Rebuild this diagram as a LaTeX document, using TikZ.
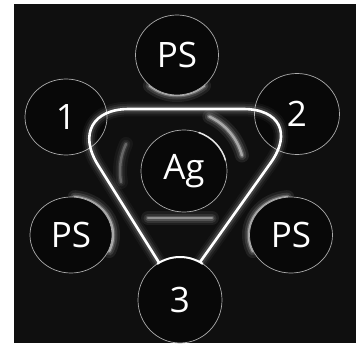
\documentclass[tikz,border=0pt]{standalone}
\usepackage{fontspec}
\setmainfont{Open Sans}
\usetikzlibrary{shapes.geometric}

\begin{document}
\begin{tikzpicture}[
        x=1pt, y=-1pt,
        font=\fontsize{35}{37}\selectfont,
        ring/.style={ellipse, draw=gray!65, line width=0.7pt, fill=black!97, text=white, inner sep=0pt},
        frame/.style={draw=white, line width=2.6pt, rounded corners=66pt},
        haze/.style={draw=white, line width=#1, line cap=round}
    ]
    \useasboundingbox (0,0) rectangle (356,343);
    \fill[black!94] (14,4) rectangle (356,343);

    % soft light round the rings
    \foreach \w/\o in {14/0.08, 9/0.12, 5/0.2, 2.5/0.45} {
        \draw[haze=\w pt, opacity=\o] (177,55) ++(50:42 and 40) arc[start angle=50, end angle=130, x radius=42, y radius=40];
        \draw[haze=\w pt, opacity=\o] (71,235) ++(275:42 and 38) arc[start angle=275, end angle=385, x radius=42, y radius=38];
        \draw[haze=\w pt, opacity=\o] (291,235) ++(155:42 and 38) arc[start angle=155, end angle=265, x radius=42, y radius=38];
        \draw[haze=\w pt, opacity=\o] (184,171) ++(295:60 and 60) arc[start angle=295, end angle=345, radius=60];
        \draw[haze=\w pt, opacity=0.5*\o] (184,171) ++(170:64 and 64) arc[start angle=170, end angle=205, radius=64];
        \draw[haze=\w pt, opacity=0.8*\o] (148,218) -- (212,218);
    }

    \node[ring, minimum width=83pt, minimum height=80pt] (ps-top) at (177,55) {PS};
    \node[ring, minimum width=82pt, minimum height=76pt] (one) at (66,117) {1};
    \node[ring, minimum width=85pt, minimum height=81pt] (two) at (297,114) {2};
    \node[ring, minimum width=82pt, minimum height=76pt] (ps-left) at (71,235) {PS};
    \node[ring, minimum width=83pt, minimum height=76pt] (ps-right) at (291,235) {PS};

    % the frame round the middle ring
    \foreach \w/\o in {12/0.04, 8/0.07, 4/0.12}
        \draw[frame, line width=2.6pt+\w pt, opacity=\o] (178,293) -- (63,109) -- (309,109) -- (178,293);
    \draw[frame] (178,293) -- (63,109) -- (309,109) -- (178,293);

    \node[ring, minimum width=86pt, minimum height=82pt] (ag) at (184,171) {Ag};
    \node[ring, minimum width=84pt, minimum height=86pt] (three) at (180,300) {3};

    % bright rims
    \draw[white, line width=2pt] (180,300) ++(237:42 and 43) arc[start angle=237, end angle=303, x radius=42, y radius=43];
    \draw[white, line width=1.6pt, opacity=0.8] (184,171) ++(290:43 and 41) arc[start angle=290, end angle=345, x radius=43, y radius=41];
\end{tikzpicture}
\end{document}
